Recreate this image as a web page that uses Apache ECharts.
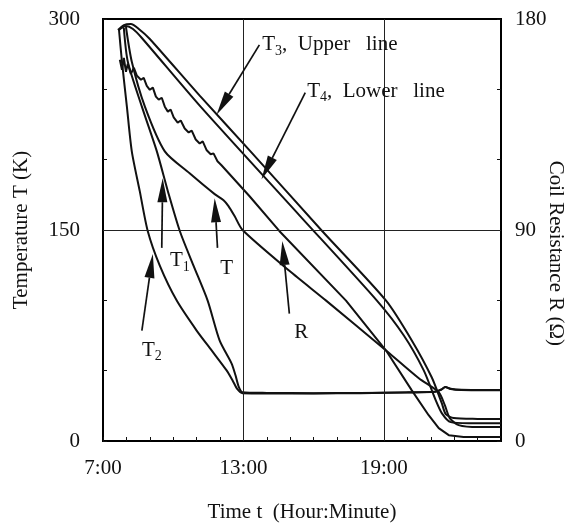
<!DOCTYPE html>
<html>
<head>
<meta charset="utf-8">
<script src="https://cdn.jsdelivr.net/npm/echarts@6/dist/echarts.min.js"></script>
<style>
  html, body { margin: 0; padding: 0; background: #fff; }
  #chart { width: 580px; height: 531px; }
</style>
</head>
<body>
<div id="chart"></div>
<script>
// Cool-down record of the coil: temperatures (K) and coil resistance (Ω) against time of day (hours)
const xTickLabels = [7, 13, 19];          // hours shown on the time axis
const tempTickLabels = [0, 150, 300];     // K
const resTickLabels = [0, 90, 180];       // Ω

const seriesT2 = [
  [7.68, 292.9], [7.81, 269.6], [8.02, 237.7], [8.23, 205.9], [8.57, 177.6],
  [8.91, 149.3], [9.43, 124.5], [10.15, 99.8], [11.0, 78.5], [11.64, 64.4],
  [12.28, 50.2], [12.53, 43.2], [12.74, 36.8], [12.96, 34.0], [14.0, 33.8],
  [16.0, 33.8], [18.0, 34.0], [20.0, 34.5], [21.2, 35.0], [21.45, 36.5],
  [21.62, 38.3], [21.85, 37.0], [22.3, 36.3], [24.0, 36.1]
];
const seriesT1 = [
  [7.89, 293.6], [8.06, 269.6], [8.66, 237.7], [9.30, 205.9], [9.77, 177.6],
  [10.28, 149.3], [10.87, 124.5], [11.47, 99.8], [11.98, 71.5], [12.49, 55.2],
  [12.66, 46.7], [12.79, 38.9], [12.96, 34.7], [14.0, 34.2], [16.0, 34.0],
  [18.0, 34.2], [20.0, 34.6], [21.2, 35.1], [21.45, 36.6], [21.62, 38.4],
  [21.85, 37.1], [22.3, 36.4], [24.0, 36.2]
];
const seriesT = [
  [7.98, 294.3], [8.23, 269.6], [8.79, 237.7], [9.64, 205.9], [10.70, 190.3],
  [11.77, 175.5], [12.15, 171.2], [12.36, 167.0], [12.62, 159.9], [12.96, 150.0],
  [14.96, 121.0], [16.53, 99.8], [19.09, 64.4], [20.49, 44.6], [21.34, 34.7],
  [21.60, 25.5], [21.81, 16.3], [22.19, 11.3], [23.04, 9.9], [24.0, 9.9]
];
const seriesT3 = [
  [7.64, 292.2], [7.89, 295.7], [8.19, 296.4], [8.53, 292.9], [9.0, 285.8],
  [11.13, 245.5], [13.30, 205.9], [16.36, 149.3], [19.09, 99.8], [20.19, 71.5],
  [21.04, 45.3], [21.47, 26.9], [21.64, 19.1], [21.98, 16.3], [23.0, 15.7],
  [24.0, 15.6]
];
const seriesT4 = [
  [7.68, 292.2], [7.98, 295.0], [8.28, 292.9], [8.66, 286.5], [11.13, 238.4],
  [15.38, 160.6], [18.70, 99.8], [19.85, 75.0], [20.70, 50.2], [21.21, 29.0],
  [21.47, 19.8], [21.85, 13.4], [22.62, 12.7], [24.0, 12.7]
];
// resistance in Ω (right axis)
const seriesR = [
  [7.72, 162.6], [7.81, 158.3], [7.89, 163.4], [7.98, 157.5], [8.06, 160.9],
  [8.19, 156.6], [8.32, 159.2], [8.45, 155.8], [8.62, 154.1], [8.74, 154.9],
  [8.87, 151.5], [9.0, 149.8], [9.13, 150.7], [9.26, 146.9], [9.38, 145.6],
  [9.51, 146.4], [9.64, 142.6], [9.77, 140.5], [9.89, 141.4], [10.02, 138.0],
  [10.19, 135.8], [10.32, 136.7], [10.49, 133.3], [10.66, 131.6], [10.79, 132.4],
  [10.96, 128.6], [11.13, 126.9], [11.26, 127.8], [11.43, 124.0], [11.60, 122.3],
  [11.72, 122.7], [11.89, 119.3], [12.06, 117.6], [13.26, 104.4], [14.53, 89.6],
  [17.38, 59.9], [19.09, 38.6], [20.19, 21.6], [20.91, 11.0], [21.34, 5.5],
  [21.77, 2.5], [22.40, 1.7], [24.0, 1.7]
];

// callouts: [label rich text, label anchor (h, K), arrow tail (h, K), arrow tip (h, K), align]
const callouts = [
  ['{m|T}{s|3}{m|,  Upper   line}', [13.80, 281.6], [13.68, 281.6], [11.85, 232.0], 'left'],
  ['{m|T}{s|4}{m|,  Lower   line}', [15.72, 248.4], [15.64, 247.6], [13.77, 186.1], 'left'],
  ['{m|T}{s|1}', [10.28, 128.0], [9.51, 137.3], [9.55, 186.8], 'center'],
  ['{m|T}', [12.28, 122.4], [11.89, 137.3], [11.77, 172.6], 'center'],
  ['{m|T}{s|2}', [9.09, 64.4], [8.66, 78.5], [9.13, 133.0], 'center'],
  ['{m|R}', [15.47, 77.1], [14.96, 90.6], [14.66, 142.2], 'center']
];

const FONT = 'Liberation Serif';
const INK = '#111';
const FS = 21;

const chart = echarts.init(document.getElementById('chart'), null, { renderer: 'canvas' });

function lineSeries(name, data, yIdx) {
  return {
    name, type: 'line', data, yAxisIndex: yIdx, showSymbol: false, symbol: 'none',
    smooth: 0.25, lineStyle: { color: INK, width: 2 }, z: 3, silent: true
  };
}

const gridLines = {
  silent: true, symbol: 'none', label: { show: false },
  lineStyle: { color: '#222', width: 1, type: 'solid' },
  data: [{ xAxis: 13 }, { xAxis: 19 }, { yAxis: 150 }]
};

const series = [
  lineSeries('T2', seriesT2, 0),
  lineSeries('T1', seriesT1, 0),
  lineSeries('T', seriesT, 0),
  lineSeries('T3', seriesT3, 0),
  lineSeries('T4', seriesT4, 0),
  Object.assign(lineSeries('R', seriesR, 1), { smooth: false })
];
series[0].markLine = gridLines;

const axisFont = { fontFamily: FONT, fontSize: FS, color: INK };

chart.setOption({
  animation: false,
  backgroundColor: '#fff',
  grid: {
    left: 103, right: 79, top: 19, bottom: 90,
    containLabel: false, outerBoundsMode: 'none',
    show: true, borderColor: '#000', borderWidth: 2, backgroundColor: 'transparent'
  },
  xAxis: {
    type: 'value', min: 7, max: 24, interval: 1,
    axisLine: { show: false },
    axisTick: { inside: true, length: 4, lineStyle: { color: INK } },
    splitLine: { show: false },
    axisLabel: Object.assign({ margin: 17, showMaxLabel: false,
      formatter: v => xTickLabels.indexOf(v) >= 0 ? v + ':00' : '' }, axisFont),
    name: 'Time t  (Hour:Minute)', nameLocation: 'middle', nameGap: 61,
    nameTextStyle: axisFont
  },
  yAxis: [
    {
      type: 'value', min: 0, max: 300, interval: 50, position: 'left',
      axisLine: { show: false },
      axisTick: { inside: true, length: 4, lineStyle: { color: INK } },
      splitLine: { show: false },
      axisLabel: Object.assign({ margin: 23,
        formatter: v => tempTickLabels.indexOf(v) >= 0 ? String(v) : '' }, axisFont),
      name: 'Temperature T (K)', nameLocation: 'middle', nameGap: 71, nameRotate: 90,
      nameTextStyle: axisFont
    },
    {
      type: 'value', min: 0, max: 180, interval: 30, position: 'right',
      axisLine: { show: false },
      axisTick: { inside: true, length: 4, lineStyle: { color: INK } },
      splitLine: { show: false },
      axisLabel: Object.assign({ margin: 14,
        formatter: v => resTickLabels.indexOf(v) >= 0 ? String(v) : '' }, axisFont)
    }
  ],
  series
});

// callout arrows and labels, positioned from data coordinates
function px(pt) { return chart.convertToPixel({ xAxisIndex: 0, yAxisIndex: 0 }, pt); }

const graphics = [];
callouts.forEach(([text, at, tail, tip, align]) => {
  const a = px(tail), b = px(tip), p = px(at);
  const dx = b[0] - a[0], dy = b[1] - a[1];
  const len = Math.sqrt(dx * dx + dy * dy);
  const ux = dx / len, uy = dy / len;
  const headLen = 24, headW = 5;
  const bx = b[0] - ux * headLen, by = b[1] - uy * headLen;
  graphics.push({
    type: 'line', silent: true, z: 10,
    shape: { x1: a[0], y1: a[1], x2: bx, y2: by },
    style: { stroke: INK, lineWidth: 1.7 }
  });
  graphics.push({
    type: 'polygon', silent: true, z: 10,
    shape: { points: [[b[0], b[1]], [bx - uy * headW, by + ux * headW], [bx + uy * headW, by - ux * headW]] },
    style: { fill: INK }
  });
  graphics.push({
    type: 'text', silent: true, z: 11, x: p[0], y: p[1],
    style: {
      text, align, verticalAlign: 'middle',
      rich: {
        m: { fontFamily: FONT, fontSize: FS, fill: INK, lineHeight: 26, verticalAlign: 'middle' },
        s: { fontFamily: FONT, fontSize: 14, fill: INK, lineHeight: 26, verticalAlign: 'bottom' }
      }
    }
  });
});

// right-hand axis title, reading downward beside the resistance scale
const rightTitleAt = chart.convertToPixel({ xAxisIndex: 0, yAxisIndex: 1 }, [24, 80]);
graphics.push({
  type: 'text', silent: true, x: rightTitleAt[0] + 55, y: rightTitleAt[1], rotation: -Math.PI / 2,
  style: { text: 'Coil Resistance R (Ω)', align: 'center', verticalAlign: 'middle',
           fontFamily: FONT, fontSize: FS, fill: INK }
});
chart.setOption({ graphic: graphics });
</script>
</body>
</html>
